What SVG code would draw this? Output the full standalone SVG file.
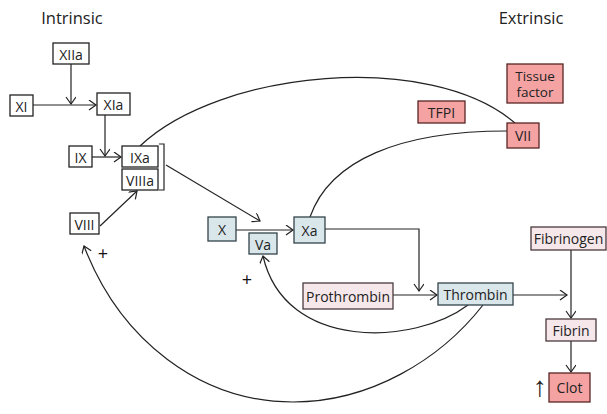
<svg xmlns="http://www.w3.org/2000/svg" width="607" height="414" viewBox="0 0 607 414">
<style>
text{font-family:"Open Sans","Noto Sans",sans-serif;font-size:14px;fill:#222;text-anchor:middle;dominant-baseline:central}
text.title{font-size:16.5px}
text.plus{font-size:18px;fill:#111}
text.up{font-family:"Liberation Sans",sans-serif;font-size:28px;fill:#222}
text.tf{font-size:13.5px}
rect{stroke-width:1.3}
.w{fill:#fff;stroke:#222}
.b{fill:#d9e6ea;stroke:#34444a}
.p{fill:#f6e8ea;stroke:#4a3a3c}
.r{fill:#f4a2a2;stroke:#5a2626}
.c path,.c line{fill:none;stroke:#222;stroke-width:1.2}
</style>
<defs>
<marker id="a" markerUnits="userSpaceOnUse" markerWidth="12" markerHeight="12" refX="8" refY="5" orient="auto">
<path d="M1,0 L8,5 L1,10" fill="none" stroke="#222" stroke-width="1.2"/>
</marker>
</defs>
<rect width="607" height="414" fill="#fff"/>
<text class="title" x="72" y="17">Intrinsic</text>
<text class="title" x="531" y="17">Extrinsic</text>
<g class="c" id="connectors">
<line x1="33" y1="105" x2="96" y2="105" marker-end="url(#a)"/>
<line x1="71" y1="64" x2="71" y2="104" marker-end="url(#a)"/>
<line x1="105" y1="115" x2="105" y2="156" marker-end="url(#a)"/>
<line x1="92" y1="157" x2="121" y2="157" marker-end="url(#a)"/>
<line x1="100" y1="226" x2="137" y2="191" marker-end="url(#a)"/>
<path d="M159,144 H164 V190 H159"/>
<line x1="166" y1="165" x2="260" y2="221" marker-end="url(#a)"/>
<line x1="236" y1="230" x2="293" y2="230" marker-end="url(#a)"/>
<path d="M140,146 C220,70 430,50 515,123"/>
<path d="M310,217 C330,160 400,131 507,131"/>
<path d="M325,229 H419 V291" marker-end="url(#a)"/>
<line x1="393" y1="295" x2="437" y2="295" marker-end="url(#a)"/>
<line x1="513" y1="295" x2="567" y2="295" marker-end="url(#a)"/>
<line x1="571" y1="250" x2="571" y2="318" marker-end="url(#a)"/>
<line x1="571" y1="341" x2="571" y2="372" marker-end="url(#a)"/>
<path d="M468,305 C415,345 285,352 263,256" marker-end="url(#a)"/>
<path d="M483,305 C440,360 370,402 293,402 C200,402 120,340 84,246" marker-end="url(#a)"/>
</g>
<text class="plus" x="103" y="253">+</text>
<text class="plus" x="247" y="279">+</text>
<text class="up" x="540" y="386">↑</text>
<g id="XIIa"><rect class="w" x="53" y="43" width="36" height="21"/><text x="71" y="54">XIIa</text></g>
<g id="XI"><rect class="w" x="10" y="95" width="23" height="21"/><text x="21.5" y="106">XI</text></g>
<g id="XIa"><rect class="w" x="97" y="93" width="33" height="22"/><text x="113.5" y="104">XIa</text></g>
<g id="IX"><rect class="w" x="69" y="146" width="23" height="21"/><text x="80.5" y="157">IX</text></g>
<g id="IXa"><rect class="w" x="122" y="146" width="36" height="21"/><text x="140" y="157">IXa</text></g>
<g id="VIIIa"><rect class="w" x="122" y="169" width="36" height="21"/><text x="140" y="180">VIIIa</text></g>
<g id="VIII"><rect class="w" x="70" y="213" width="29" height="21"/><text x="84.5" y="224">VIII</text></g>
<g id="X"><rect class="b" x="208" y="217" width="28" height="24"/><text x="222" y="229">X</text></g>
<g id="Va"><rect class="b" x="249" y="233" width="28" height="21"/><text x="263" y="244">Va</text></g>
<g id="Xa"><rect class="b" x="294" y="217" width="31" height="26"/><text x="309.5" y="230">Xa</text></g>
<g id="Prothrombin"><rect class="p" x="303" y="283" width="90" height="26"/><text x="348" y="296">Prothrombin</text></g>
<g id="Thrombin"><rect class="b" x="438" y="283" width="75" height="22"/><text x="475.5" y="294">Thrombin</text></g>
<g id="Fibrinogen"><rect class="p" x="531" y="227" width="75" height="23"/><text x="568.5" y="238.5">Fibrinogen</text></g>
<g id="Fibrin"><rect class="p" x="546" y="319" width="50" height="22"/><text x="571" y="330">Fibrin</text></g>
<g id="Clot"><rect class="r" x="549" y="373" width="41" height="29"/><text x="569.5" y="387.5">Clot</text></g>
<g id="VII"><rect class="r" x="507" y="123" width="32" height="25"/><text x="523" y="135.5">VII</text></g>
<g id="TFPI"><rect class="r" x="418" y="101" width="47" height="22"/><text x="441.5" y="112">TFPI</text></g>
<g id="TissueFactor"><rect class="r" x="507" y="64" width="56" height="39"/><text class="tf" x="535" y="75.5">Tissue</text><text class="tf" x="535" y="92">factor</text></g>
</svg>
